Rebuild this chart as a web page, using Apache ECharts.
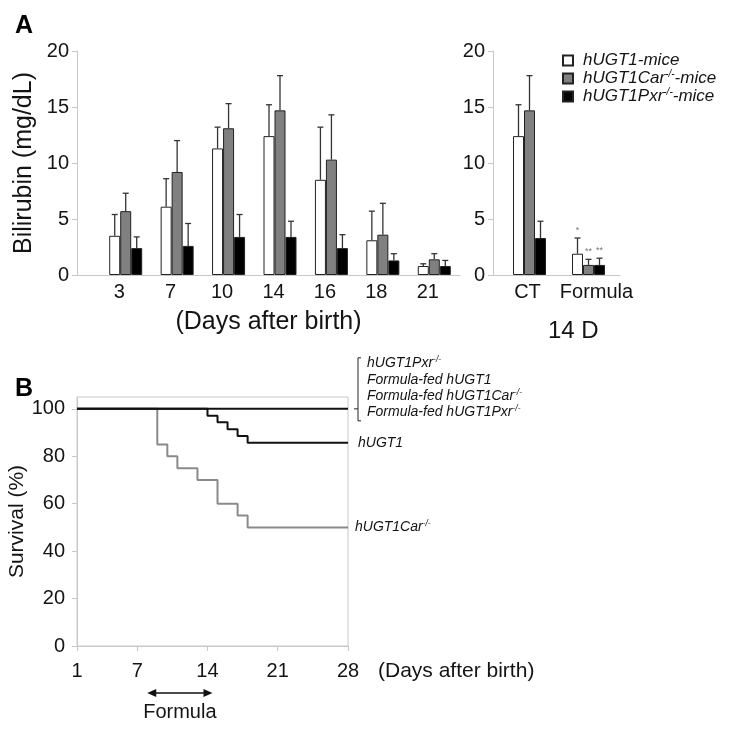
<!DOCTYPE html>
<html>
<head>
<meta charset="utf-8">
<script src="https://cdn.jsdelivr.net/npm/echarts@6/dist/echarts.min.js"></script>
<style>
  html, body { margin: 0; background: #fff; }
  #main { width: 729px; height: 729px; }
</style>
</head>
<body>
<div id="main"></div>
<script>
// panel A, left: bilirubin by day after birth
var days = ['3', '7', '10', '14', '16', '18', '21'];
var wtMean = [3.5, 6.1, 11.3, 12.4, 8.5, 3.1, 0.8];
var wtSd = [1.9, 2.5, 1.9, 2.8, 4.7, 2.6, 0.2];
var carMean = [5.7, 9.2, 13.1, 14.7, 10.3, 3.6, 1.4];
var carSd = [1.6, 2.8, 2.2, 3.1, 4.0, 2.8, 0.5];
var pxrMean = [2.4, 2.6, 3.4, 3.4, 2.4, 1.3, 0.8];
var pxrSd = [1.0, 2.0, 2.0, 1.4, 1.2, 0.6, 0.5];

// panel A, right: day 14, CT vs formula
var feeds = ['CT', 'Formula'];
var wtFeedMean = [12.4, 1.9];
var wtFeedSd = [2.8, 1.4];
var carFeedMean = [14.7, 0.9];
var carFeedSd = [3.1, 0.5];
var pxrFeedMean = [3.3, 0.9];
var pxrFeedSd = [1.5, 0.6];
var wtStars = ['', '*'];
var carStars = ['', '**'];
var pxrStars = ['', '**'];

// panel B: survival
var dayTicks = [1, 7, 14, 21, 28];
var survTicks = [0, 20, 40, 60, 80, 100];
var allDays = [1, 28];
var allSurv = [100, 100];
var hugt1Days = [1, 14, 15, 16, 17, 18, 28];
var hugt1Surv = [100, 97.1, 94.3, 91.4, 88.6, 85.7, 85.7];
var carDays = [1, 9, 10, 11, 13, 15, 17, 18, 28];
var carSurv = [100, 85, 80, 75, 70, 60, 55, 50, 50];
var formulaPeriod = [8, 14.5];

var names = ['hUGT1-mice', 'hUGT1Car-/--mice', 'hUGT1Pxr-/--mice'];
var fills = ['#ffffff', '#808080', '#000000'];
var barW = 11;
var font = "'Liberation Sans', Arial, sans-serif";
var axisGrey = '#c8c8c8';
var ink = '#141414';

function zip(a, b) {
    return a.map(function (v, i) { return [v, b[i]]; });
}

function errSeries(k, xi, means, sds, stars) {
    return {
        type: 'custom',
        xAxisIndex: xi,
        yAxisIndex: xi,
        z: 5,
        silent: true,
        data: means.map(function (m, i) { return [i, m, sds[i]]; }),
        renderItem: function (params, api) {
            var i = api.value(0);
            var m = api.value(1);
            var p0 = api.coord([i, m]);
            var p1 = api.coord([i, m + api.value(2)]);
            var dx = (k - 1) * barW;
            var x = p0[0] + dx;
            var kids = [
                { type: 'line', shape: { x1: x, y1: p0[1], x2: x, y2: p1[1] }, style: { stroke: '#333', lineWidth: 1.3 } },
                { type: 'line', shape: { x1: x - 3, y1: p1[1], x2: x + 3, y2: p1[1] }, style: { stroke: '#333', lineWidth: 1.3 } }
            ];
            if (stars && stars[params.dataIndex]) {
                kids.push({
                    type: 'text',
                    style: { text: stars[params.dataIndex], x: x, y: p1[1] - 8, align: 'center', verticalAlign: 'middle', fill: '#777', font: '9px ' + font }
                });
            }
            return { type: 'group', children: kids };
        }
    };
}

function barSeries(k, xi, data) {
    return {
        name: names[k],
        type: 'bar',
        xAxisIndex: xi,
        yAxisIndex: xi,
        barWidth: barW,
        barGap: '0%',
        data: data,
        itemStyle: { color: fills[k], borderColor: '#222', borderWidth: 1 },
        emphasis: { disabled: true }
    };
}

var supRich = {
    a: { fontStyle: 'italic', fontSize: 17, lineHeight: 19, color: ink, fontFamily: font },
    s: { fontStyle: 'italic', fontSize: 10, lineHeight: 19, color: ink, fontFamily: font, verticalAlign: 'top', padding: [0, 0, 6, 0] }
};
var smallRich = {
    a: { fontStyle: 'italic', fontSize: 14, lineHeight: 16.3, color: ink, fontFamily: font },
    s: { fontStyle: 'italic', fontSize: 8.5, lineHeight: 16.3, color: ink, fontFamily: font, verticalAlign: 'top', padding: [0, 0, 5, 0] }
};

function supText(t) {
    return t.replace(/([A-Za-z0-9 -]*?)(-\/-)/g, '{a|$1}{s|$2}').replace(/(\})([^{}]+)$/, '$1{a|$2}')
        .replace(/^([^{]+)$/, '{a|$1}');
}

var myChart = echarts.init(document.getElementById('main'));
var option = {
    animation: false,
    backgroundColor: '#fff',
    textStyle: { fontFamily: font, color: ink },
    title: [
        { text: 'A', left: 10, top: 9, textStyle: { fontSize: 25, fontWeight: 'bold', color: '#000' } },
        { text: 'B', left: 10, top: 372, textStyle: { fontSize: 25, fontWeight: 'bold', color: '#000' } },
        { text: '14 D', left: 543, top: 314, textStyle: { fontSize: 24, fontWeight: 'normal', color: ink } }
    ],
    legend: {
        data: names,
        orient: 'vertical',
        left: 557,
        top: 47,
        icon: 'rect',
        itemWidth: 10,
        itemHeight: 10,
        itemGap: 0,
        selectedMode: false,
        formatter: function (n) { return supText(n); },
        textStyle: { padding: [0, 0, 0, 5], rich: supRich }
    },
    grid: [
        { left: 100, top: 51, width: 360, height: 224 },
        { left: 500, top: 51, width: 118, height: 224 },
        { left: 77, top: 51, width: 383, height: 224 },
        { left: 493, top: 51, width: 127, height: 224 },
        { left: 77, top: 397, width: 271, height: 249, show: true, borderColor: axisGrey, borderWidth: 1 }
    ],
    xAxis: [
        {
            type: 'category', gridIndex: 0, data: days,
            axisLine: { show: false }, axisTick: { show: false },
            axisLabel: { fontSize: 20, color: ink, margin: 7, interval: 0, padding: [0, 13, 0, 0] }
        },
        {
            type: 'category', gridIndex: 1, data: feeds,
            axisLine: { show: false }, axisTick: { show: false },
            axisLabel: {
                fontSize: 20, color: ink, margin: 7, interval: 0, hideOverlap: false,
                formatter: function (v, i) { return i === 0 ? '{c|' + v + '}' : '{f|' + v + '}'; },
                rich: {
                    c: { fontSize: 20, color: ink, padding: [0, 4, 0, 0] },
                    f: { fontSize: 20, color: ink, padding: [0, 0, 0, 16] }
                }
            }
        },
        {
            type: 'category', gridIndex: 2, data: [''],
            axisLine: { lineStyle: { color: axisGrey, width: 1 } }, axisTick: { show: false }, axisLabel: { show: false },
            name: '(Days after birth)', nameLocation: 'middle', nameGap: 35,
            nameTextStyle: { fontSize: 25, color: ink }
        },
        {
            type: 'category', gridIndex: 3, data: [''],
            axisLine: { lineStyle: { color: axisGrey, width: 1 } }, axisTick: { show: false }, axisLabel: { show: false }
        },
        {
            type: 'value', gridIndex: 4, min: 1, max: 28,
            splitLine: { show: false },
            axisLine: { lineStyle: { color: axisGrey } },
            axisTick: { show: true, length: 5, lineStyle: { color: axisGrey }, customValues: dayTicks },
            axisLabel: { fontSize: 20, color: ink, margin: 15, customValues: dayTicks },
            name: '(Days after birth)', nameLocation: 'end', nameGap: 30,
            nameTextStyle: { fontSize: 21, color: ink, verticalAlign: 'top', padding: [15, 0, 0, 0] }
        }
    ],
    yAxis: [
        {
            type: 'value', gridIndex: 0, min: 0, max: 20, interval: 5, offset: 23,
            splitLine: { show: false },
            axisLine: { show: true, lineStyle: { color: axisGrey } },
            axisTick: { show: true, length: 5, lineStyle: { color: axisGrey } },
            axisLabel: { fontSize: 20, color: ink, margin: 8 },
            name: 'Bilirubin (mg/dL)', nameLocation: 'middle', nameGap: 40,
            nameTextStyle: { fontSize: 25, color: ink }
        },
        {
            type: 'value', gridIndex: 1, min: 0, max: 20, interval: 5, offset: 7,
            splitLine: { show: false },
            axisLine: { show: true, lineStyle: { color: axisGrey } },
            axisTick: { show: true, length: 5, lineStyle: { color: axisGrey } },
            axisLabel: { fontSize: 20, color: ink, margin: 8 }
        },
        { type: 'value', gridIndex: 2, min: 0, max: 1, show: false },
        { type: 'value', gridIndex: 3, min: 0, max: 1, show: false },
        {
            type: 'value', gridIndex: 4, min: 0, max: 105,
            splitLine: { show: false },
            axisLine: { show: true, lineStyle: { color: axisGrey } },
            axisTick: { show: true, length: 5, lineStyle: { color: axisGrey }, customValues: survTicks },
            axisLabel: { fontSize: 20, color: ink, margin: 12, customValues: survTicks },
            name: 'Survival (%)', nameLocation: 'middle', nameGap: 45,
            nameTextStyle: { fontSize: 21, color: ink }
        }
    ],
    series: [
        barSeries(0, 0, wtMean),
        barSeries(1, 0, carMean),
        barSeries(2, 0, pxrMean),
        barSeries(0, 1, wtFeedMean),
        barSeries(1, 1, carFeedMean),
        barSeries(2, 1, pxrFeedMean),
        errSeries(0, 0, wtMean, wtSd),
        errSeries(1, 0, carMean, carSd),
        errSeries(2, 0, pxrMean, pxrSd),
        errSeries(0, 1, wtFeedMean, wtFeedSd, wtStars),
        errSeries(1, 1, carFeedMean, carFeedSd, carStars),
        errSeries(2, 1, pxrFeedMean, pxrFeedSd, pxrStars),
        {
            name: 'hUGT1Car-/-', type: 'line', xAxisIndex: 4, yAxisIndex: 4,
            step: 'end', symbol: 'none', data: zip(carDays, carSurv),
            lineStyle: { color: '#8a8a8a', width: 2 },
            endLabel: { show: true, distance: 7, formatter: function () { return supText('hUGT1Car-/-'); }, rich: smallRich }
        },
        {
            name: 'hUGT1', type: 'line', xAxisIndex: 4, yAxisIndex: 4,
            step: 'end', symbol: 'none', data: zip(hugt1Days, hugt1Surv),
            lineStyle: { color: '#111', width: 2 },
            endLabel: { show: true, distance: 10, formatter: function () { return '{a|hUGT1}'; }, rich: smallRich }
        },
        {
            name: 'others', type: 'line', xAxisIndex: 4, yAxisIndex: 4,
            step: 'end', symbol: 'none', data: zip(allDays, allSurv),
            lineStyle: { color: '#111', width: 2 },
            endLabel: {
                show: true, distance: 19, offset: [0, -21],
                formatter: function () {
                    return [supText('hUGT1Pxr-/-'), '{a|Formula-fed hUGT1}', supText('Formula-fed hUGT1Car-/-'), supText('Formula-fed hUGT1Pxr-/-')].join('\n');
                },
                rich: smallRich
            }
        }
    ]
};
myChart.setOption(option);

// bracket next to the grouped label and the formula-period arrow
var end100 = myChart.convertToPixel({ gridIndex: 4 }, [28, 100]);
var bx = end100[0] + 10;
var a0 = myChart.convertToPixel({ gridIndex: 4 }, [formulaPeriod[0], 0]);
var a1 = myChart.convertToPixel({ gridIndex: 4 }, [formulaPeriod[1], 0]);
var ay = a0[1] + 47;
myChart.setOption({
    graphic: [
        {
            type: 'polyline', silent: true,
            shape: { points: [[bx + 3, end100[1] - 51], [bx, end100[1] - 51], [bx, end100[1] + 12], [bx + 3, end100[1] + 12]] },
            style: { stroke: '#222', lineWidth: 1, fill: null }
        },
        {
            type: 'line', silent: true,
            shape: { x1: bx - 4, y1: end100[1], x2: bx, y2: end100[1] },
            style: { stroke: '#222', lineWidth: 1 }
        },
        {
            type: 'line', silent: true,
            shape: { x1: a0[0] + 6, y1: ay, x2: a1[0] - 6, y2: ay },
            style: { stroke: '#111', lineWidth: 1.5 }
        },
        {
            type: 'polygon', silent: true,
            shape: { points: [[a0[0], ay], [a0[0] + 9, ay - 4], [a0[0] + 9, ay + 4]] },
            style: { fill: '#111' }
        },
        {
            type: 'polygon', silent: true,
            shape: { points: [[a1[0], ay], [a1[0] - 9, ay - 4], [a1[0] - 9, ay + 4]] },
            style: { fill: '#111' }
        },
        {
            type: 'text', silent: true,
            style: { text: 'Formula', x: (a0[0] + a1[0]) / 2, y: ay + 19, align: 'center', verticalAlign: 'middle', font: '20px ' + font, fill: ink }
        }
    ]
});
</script>
</body>
</html>
